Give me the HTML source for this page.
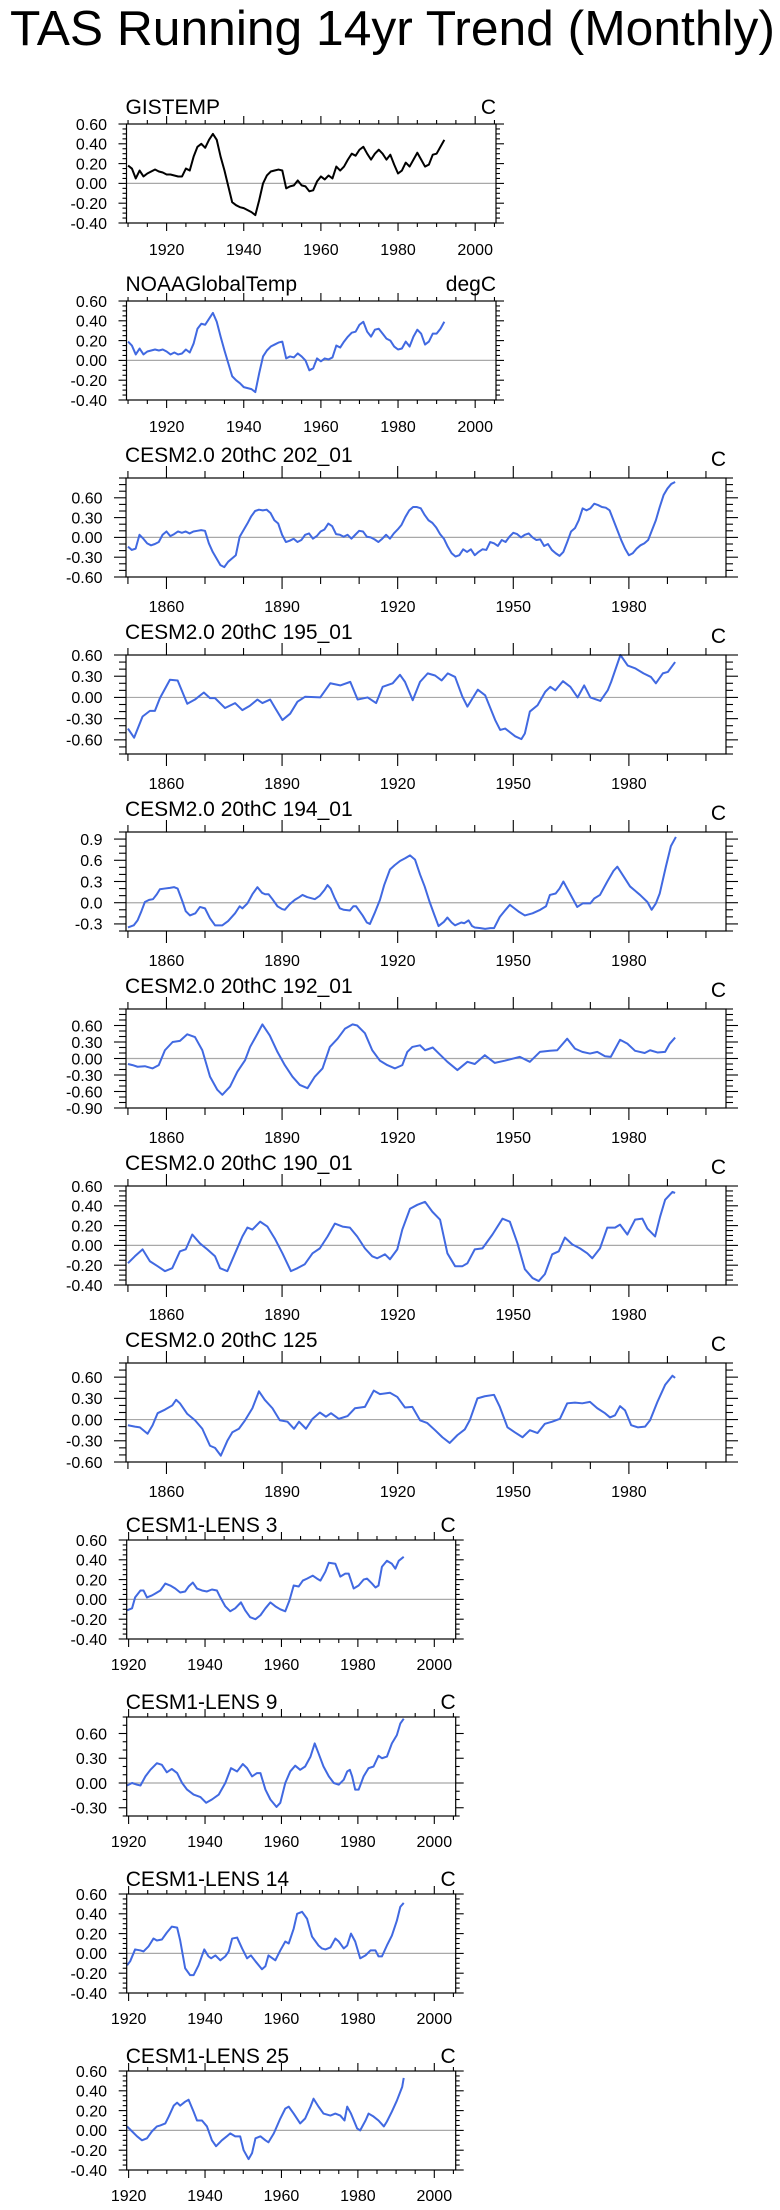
<!DOCTYPE html>
<html>
<head>
<meta charset="utf-8">
<style>
html,body{margin:0;padding:0;background:#fff;}
svg{display:block;font-family:"Liberation Sans",Arial,sans-serif;}
</style>
</head>
<body>
<svg id="chart" width="780" height="2210" viewBox="0 0 780 2210">
<text x="10" y="45" font-size="49" textLength="765" lengthAdjust="spacingAndGlyphs">TAS Running 14yr Trend (Monthly)</text>
</svg>
<script>
// ---------- data ----------
const gisStart = 1910;
const gisVals = [.18,.15,.05,.13,.07,.10,.12,.14,.12,.11,
.09,.09,.08,.07,.07,.15,.13,.27,.37,.40,
.36,.44,.50,.44,.27,.13,-.03,-.19,-.22,-.24,
-.25,-.27,-.29,-.32,-.17,.0,.08,.12,.13,.14,
.13,-.05,-.03,-.02,.03,-.02,-.03,-.08,-.07,.02,
.07,.04,.08,.05,.17,.13,.17,.24,.30,.28,
.34,.37,.30,.24,.30,.34,.30,.24,.29,.19,
.10,.13,.21,.17,.24,.31,.24,.17,.19,.29,
.30,.37,.44];
const noaaStart = 1910;
const noaaVals = [.19,.15,.06,.12,.06,.09,.10,.11,.10,.11,
.09,.06,.08,.06,.07,.11,.08,.17,.32,.37,
.36,.42,.48,.39,.24,.10,-.03,-.16,-.20,-.23,
-.27,-.28,-.29,-.32,-.13,.04,.10,.14,.16,.18,
.19,.02,.04,.03,.07,.04,.00,-.10,-.08,.02,
-.01,.02,.01,.03,.15,.13,.19,.24,.28,.29,
.36,.39,.29,.24,.31,.32,.27,.22,.20,.14,
.11,.12,.19,.14,.24,.31,.27,.16,.19,.27,
.27,.32,.39];
const c202Start = 1850;
const c202Vals = [-.14,-.19,-.17,.04,-.02,-.09,-.12,-.10,-.07,.04,
.09,.02,.05,.09,.07,.09,.06,.09,.10,.11,
.10,-.09,-.22,-.32,-.42,-.45,-.37,-.32,-.27,.01,
.11,.21,.32,.40,.42,.41,.42,.37,.26,.21,
.04,-.07,-.05,-.02,-.07,-.04,.04,.06,-.02,.02,
.09,.12,.21,.17,.05,.04,.01,.04,-.02,.04,
.10,.09,.01,0,-.03,-.07,-.02,.04,-.02,.06,
.12,.19,.31,.41,.46,.46,.44,.34,.26,.22,
.15,.05,-.02,-.14,-.24,-.29,-.27,-.18,-.22,-.18,
-.27,-.22,-.18,-.19,-.07,-.09,-.13,-.04,-.07,.01,
.07,.05,0,.04,.06,0,-.04,-.03,-.13,-.10,
-.19,-.24,-.28,-.22,-.07,.09,.14,.26,.44,.41,
.44,.51,.49,.46,.45,.41,.26,.11,-.04,-.17,
-.27,-.24,-.17,-.12,-.09,-.04,.11,.26,.46,.64,
.74,.81,.84];
const c195Years = [1850,1851.6,1853.8,1855.7,1857,1858.3,1860.9,1862.9,1865.4,1867.4,1869.7,1871.3,1872.6,1875.2,1877.8,1879.7,1881.6,1883.6,1884.9,1886.9,1888.2,1890.1,1892.1,1894,1896,1899.9,1902.5,1905.1,1907.7,1909.6,1912.2,1914.4,1916.1,1918.7,1920.6,1921.9,1923.9,1925.8,1927.8,1929.7,1931.4,1933,1934.9,1936.8,1938.1,1940.8,1942.7,1945.3,1946.6,1947.9,1950.5,1952.1,1953,1954.3,1956.3,1958.3,1959.6,1960.9,1962.9,1964.8,1966.7,1968.4,1970,1972.6,1974.5,1975.4,1977.8,1979.7,1981.7,1983.8,1985.7,1987,1988.8,1990.1,1992];
const c195Vals = [-.44,-.57,-.27,-.19,-.19,-.01,.25,.24,-.09,-.03,.07,-.01,-.01,-.15,-.08,-.18,-.12,-.03,-.08,-.03,-.15,-.32,-.23,-.06,.01,0,.20,.17,.22,-.03,0,-.08,.15,.20,.32,.22,-.04,.22,.34,.31,.24,.34,.29,.01,-.13,.11,.03,-.32,-.46,-.44,-.55,-.59,-.51,-.20,-.11,.08,.15,.10,.23,.15,0,.17,0,-.05,.10,.22,.60,.45,.41,.34,.29,.20,.34,.36,.50];
const c194Years = [1850,1851.5,1852.5,1853.5,1854.4,1855.5,1856.5,1857.5,1858.3,1859.5,1860.9,1862,1862.9,1864.2,1865,1866.1,1867.5,1868.7,1870,1871.3,1872.6,1874.5,1876,1877.8,1879,1879.7,1881,1882.3,1883.6,1884.8,1885.6,1886.5,1887.5,1888.8,1890,1890.7,1892,1893.3,1894.5,1895.3,1896.5,1898.5,1899.8,1901,1901.8,1902.6,1903.7,1905,1906,1907.6,1908.5,1909.2,1910.9,1912,1912.8,1914,1915.4,1916.5,1918,1919.2,1920.6,1922,1923.2,1924.5,1925.8,1927,1928.3,1929.5,1930.6,1932,1932.9,1934,1934.9,1936.5,1937.3,1938.4,1939.3,1940,1941.5,1942.7,1944,1945,1946.5,1948,1949.1,1950.3,1951.5,1953,1955,1957,1958.5,1959.5,1961,1962,1963,1964.7,1966.6,1968,1970,1971,1972.5,1974.4,1976,1977,1978.3,1980.3,1982.9,1984.8,1985.9,1987,1988,1989.6,1990.9,1992.2];
const c194Vals = [-.35,-.32,-.25,-.12,.01,.04,.05,.12,.19,.20,.21,.22,.20,.01,-.12,-.18,-.15,-.06,-.08,-.22,-.32,-.32,-.26,-.15,-.05,-.08,-.01,.12,.22,.14,.12,.12,.05,-.05,-.09,-.10,-.02,.04,.08,.11,.08,.05,.10,.18,.25,.20,.06,-.08,-.10,-.11,-.05,-.05,-.18,-.28,-.30,-.15,.04,.25,.47,.53,.59,.63,.67,.61,.40,.23,.01,-.17,-.33,-.27,-.21,-.28,-.32,-.28,-.29,-.25,-.33,-.35,-.36,-.37,-.36,-.36,-.20,-.10,-.03,-.08,-.13,-.18,-.15,-.10,-.05,.11,.13,.20,.30,.13,-.06,-.01,-.01,.06,.11,.30,.45,.51,.40,.23,.11,.01,-.10,-.01,.13,.51,.80,.93];
const c192Years = [1850,1851.2,1852.5,1854.4,1856.4,1858,1859.6,1861.6,1863.5,1865.4,1867.4,1869.3,1871.3,1873.2,1874.5,1876.5,1878.4,1880.4,1881.7,1883.6,1884.9,1886.8,1888.8,1890.7,1892.7,1894.6,1896.6,1898.5,1900.5,1902.4,1904.4,1906.3,1908.3,1909.5,1911.5,1913.4,1915.4,1917.3,1919.3,1921.2,1922.5,1923.8,1925.8,1927.1,1929.1,1930.7,1932.9,1935.5,1938.1,1940,1942.6,1945.2,1947.8,1951.7,1954.3,1956.9,1959.5,1961.4,1964,1966,1967.9,1969.9,1971.8,1973.8,1975.3,1977.7,1979.6,1981.6,1984.1,1985.5,1987.4,1989.4,1990.6,1992];
const c192Vals = [-.10,-.12,-.15,-.14,-.18,-.12,.15,.30,.32,.44,.39,.15,-.33,-.57,-.66,-.51,-.24,-.03,.21,.45,.62,.42,.12,-.12,-.33,-.48,-.54,-.33,-.18,.21,.36,.54,.62,.60,.46,.15,-.04,-.12,-.18,-.12,.12,.21,.24,.15,.20,.09,-.06,-.21,-.06,-.10,.06,-.08,-.04,.03,-.06,.12,.14,.15,.36,.18,.12,.09,.12,.04,.03,.34,.27,.14,.10,.15,.11,.12,.27,.38];
const c190Years = [1850,1851.8,1853.8,1855.7,1857.7,1859.6,1861.5,1863.5,1865,1866.7,1868.7,1870.6,1872.6,1873.9,1875.8,1877.8,1879.7,1881,1882.3,1884.3,1886.2,1888.1,1890.1,1892.3,1894,1895.9,1897.9,1899.8,1901.8,1903.7,1905.7,1907.6,1909.5,1911.5,1913.4,1914.7,1916.7,1918,1919.9,1921.2,1923.2,1925.1,1927.1,1929,1931,1932.9,1934.9,1936.8,1938.1,1940,1942,1944.6,1947.2,1949.1,1951.1,1953,1955,1956.6,1958.2,1960.1,1961.8,1963.4,1965.3,1967.3,1969.2,1970.5,1972.5,1974.4,1976.4,1977.7,1979.6,1981.6,1983.5,1984.8,1986.8,1988.1,1989.4,1991.3,1992];
const c190Vals = [-.18,-.11,-.04,-.16,-.21,-.26,-.23,-.06,-.04,.11,.02,-.04,-.11,-.23,-.26,-.08,.09,.18,.16,.24,.19,.07,-.08,-.26,-.23,-.19,-.08,-.03,.09,.22,.19,.18,.09,-.03,-.11,-.13,-.09,-.14,-.04,.16,.37,.41,.44,.34,.26,-.08,-.21,-.21,-.18,-.04,-.03,.11,.27,.24,.02,-.24,-.33,-.36,-.29,-.09,-.06,.08,.01,-.03,-.08,-.13,-.03,.18,.18,.21,.11,.26,.27,.17,.09,.29,.46,.54,.53];
const c125Years = [1850,1851.8,1853.1,1855.1,1856.4,1857.7,1859.6,1861.5,1862.5,1863.5,1865.4,1867.4,1869.3,1871.3,1872.6,1874.1,1875.8,1877.1,1878.8,1880.4,1882.3,1884,1885.5,1887.5,1889.4,1891.4,1893.1,1894.4,1896.2,1897.9,1899.8,1901.4,1902.7,1904.7,1907,1908.9,1911.5,1913.8,1915.4,1918,1919.9,1921.9,1923.8,1925.8,1927.7,1929.7,1931.6,1933.5,1935.5,1937.4,1938.7,1940.7,1942.6,1945,1946.5,1948.5,1950.4,1952.4,1954.3,1956.3,1958.2,1960.1,1962.1,1964,1966,1967.9,1969.9,1971.8,1973.8,1975.1,1976.4,1977.7,1979,1980.6,1982.3,1984.2,1985.5,1987.4,1989.4,1991.3,1992];
const c125Vals = [-.08,-.10,-.11,-.20,-.08,.09,.14,.20,.28,.23,.08,-.01,-.13,-.37,-.40,-.51,-.30,-.18,-.13,-.01,.16,.40,.28,.16,-.01,-.03,-.13,-.03,-.13,.01,.10,.04,.09,.01,.05,.16,.18,.41,.36,.38,.32,.17,.18,-.01,-.05,-.15,-.25,-.33,-.22,-.14,-.01,.30,.33,.35,.18,-.11,-.18,-.25,-.15,-.19,-.06,-.03,.01,.23,.24,.23,.25,.16,.09,.03,.06,.19,.13,-.08,-.11,-.10,-.01,.25,.49,.62,.59];
const l3Years = [1919.6,1920.9,1921.7,1923.1,1923.9,1924.8,1926.1,1927,1928.3,1929.6,1930.9,1932.2,1933.5,1934.8,1935.7,1936.8,1937.9,1939.2,1940.5,1941.8,1943.1,1944,1945.3,1946.6,1947.9,1949.4,1950.5,1951.8,1953.2,1954.5,1955.8,1957.1,1958.4,1959.7,1961,1962.1,1963.2,1964.5,1965.6,1966.7,1968.2,1969.3,1970.2,1971.5,1972.4,1974.1,1975.4,1976.7,1977.6,1978.9,1980.2,1981.5,1982.4,1983.7,1984.6,1985.4,1986.3,1987.6,1988.9,1989.8,1990.7,1992];
const l3Vals = [-.11,-.09,.02,.09,.09,.02,.04,.06,.09,.16,.14,.11,.07,.08,.13,.17,.11,.09,.08,.10,.09,.02,-.07,-.12,-.09,-.03,-.11,-.18,-.20,-.16,-.09,-.03,-.07,-.10,-.12,-.01,.14,.13,.19,.21,.24,.21,.19,.28,.37,.36,.23,.26,.26,.11,.14,.20,.21,.16,.12,.14,.33,.39,.36,.31,.39,.43];
const l9Years = [1919.6,1920.9,1922.2,1923.1,1924.4,1925.7,1927.4,1928.7,1930,1931.3,1932.7,1934,1935.3,1937,1938.8,1940.3,1941.8,1943.6,1945.3,1946.8,1948.4,1949.9,1951,1952.3,1953.6,1954.5,1955.8,1957.1,1958.7,1959.7,1961,1962.3,1963.6,1964.9,1966.2,1967.6,1968.7,1969.7,1971,1972.4,1973.7,1975,1976.3,1977.2,1977.9,1978.5,1979.3,1980.2,1981.5,1982.8,1984.1,1985.4,1986.3,1987.6,1988.9,1990.2,1991.1,1992];
const l9Vals = [-.03,0,-.02,-.03,.08,.16,.24,.22,.13,.17,.12,0,-.08,-.14,-.17,-.24,-.20,-.14,0,.18,.14,.23,.18,.08,.12,.12,-.08,-.20,-.29,-.24,0,.14,.21,.16,.20,.32,.48,.36,.20,.08,0,-.02,.04,.14,.16,.08,-.08,-.08,.08,.18,.20,.33,.30,.32,.48,.58,.72,.78];
const l14Years = [1919.6,1920.4,1921.7,1923.1,1923.9,1925.2,1926.5,1927.4,1928.7,1930,1931.3,1932.7,1933.5,1934.8,1936.1,1937,1938.3,1939.8,1940.9,1941.6,1942.7,1944,1945.3,1946.2,1947.1,1948.4,1949.7,1951,1952,1953.2,1954.9,1955.8,1956.6,1958.4,1959.7,1961,1961.9,1963.2,1964.1,1965.4,1966.7,1968,1969.7,1970.6,1971.5,1972.8,1974.1,1975,1976.3,1977.2,1978.2,1979.3,1980.6,1982,1983.3,1984.6,1985.4,1986.3,1987.6,1988.9,1990.2,1991.1,1992];
const l14Vals = [-.12,-.08,.04,.03,.02,.07,.15,.13,.14,.21,.27,.26,.13,-.15,-.22,-.22,-.12,.04,-.03,-.05,-.02,-.07,-.03,.02,.15,.16,.05,-.05,-.02,-.08,-.16,-.13,-.02,-.07,.03,.12,.10,.25,.40,.42,.35,.17,.08,.05,.04,.06,.15,.12,.05,.08,.20,.12,-.05,-.02,.03,.03,-.03,-.03,.08,.18,.33,.47,.51];
const l25Years = [1919.6,1920.9,1922.2,1923.5,1924.8,1926.1,1927.4,1928.3,1929.6,1930.5,1931.8,1932.7,1933.5,1934.8,1935.7,1937,1937.9,1939.2,1940.5,1941.8,1942.9,1944.4,1945.7,1946.6,1947.9,1949.2,1950.1,1951.4,1952.3,1953.2,1954.5,1955.8,1956.6,1958,1959.7,1961,1961.9,1963.2,1964.9,1966.2,1967.6,1968.4,1969.7,1971,1972.8,1974.1,1975.4,1976.5,1977.2,1978.2,1979.8,1980.6,1982,1982.8,1984.1,1985.4,1986.8,1987.6,1988.9,1990.2,1991.6,1992];
const l25Vals = [.04,-.01,-.06,-.10,-.08,-.01,.04,.05,.07,.14,.25,.28,.25,.29,.31,.19,.10,.10,.04,-.10,-.16,-.10,-.06,-.03,-.06,-.06,-.20,-.29,-.23,-.08,-.06,-.10,-.12,-.03,.12,.22,.24,.17,.07,.12,.24,.32,.24,.17,.15,.17,.15,.10,.24,.17,.02,.00,.10,.17,.14,.10,.04,.09,.19,.30,.44,.53];

const gisYears = gisVals.map((v, i) => gisStart + i);
const noaaYears = noaaVals.map((v, i) => noaaStart + i);
const c202Years = c202Vals.map((v, i) => c202Start + i);

// tick label arrays
const yTicksTop = [-0.4, -0.2, 0, 0.2, 0.4, 0.6];
const yTicks3 = [-0.6, -0.3, 0, 0.3, 0.6];
const yTicks194 = [-0.3, 0, 0.3, 0.6, 0.9];
const yTicks192 = [-0.9, -0.6, -0.3, 0, 0.3, 0.6];
const yTicksL9 = [-0.3, 0, 0.3, 0.6];

// ---------- layout ----------
const svg = document.getElementById('chart');
const NS = svg.namespaceURI;
const H = 99;
const LAY = {
  top:  {left:126.5, right:496,   x0:1909.6, x1:2005.4, xMaj:20, xMin:5,  tMaj:8,  tMin:4, yLblX:107,   xLblDy:32, titleDy:10, unitDy:10},
  wide: {left:126,   right:726,   x0:1849.5, x1:2005.2, xMaj:30, xMin:10, tMaj:12, tMin:7, yLblX:102.5, xLblDy:35, titleDy:16, unitDy:12},
  lens: {left:126.7, right:455.7, x0:1919.5, x1:2005.6, xMaj:20, xMin:5,  tMaj:8,  tMin:4, yLblX:107,   xLblDy:31, titleDy:8,  unitDy:8}
};
const panels = [
  {id:'gistemp', title:'GISTEMP', units:'C', kind:'top', top:124, y0:-0.4, y1:0.6, yMin:0.05, yT:yTicksTop, dec:2, xs:gisYears, vs:gisVals, color:'#000'},
  {id:'noaa', title:'NOAAGlobalTemp', units:'degC', kind:'top', top:301, y0:-0.4, y1:0.6, yMin:0.05, yT:yTicksTop, dec:2, xs:noaaYears, vs:noaaVals, color:'#4169e1'},
  {id:'cesm2-202', title:'CESM2.0 20thC 202_01', units:'C', kind:'wide', top:478, y0:-0.6, y1:0.9, yMin:0.1, yT:yTicks3, dec:2, xs:c202Years, vs:c202Vals, color:'#4169e1'},
  {id:'cesm2-195', title:'CESM2.0 20thC 195_01', units:'C', kind:'wide', top:655, y0:-0.8, y1:0.6, yMin:0.1, yT:yTicks3, dec:2, xs:c195Years, vs:c195Vals, color:'#4169e1'},
  {id:'cesm2-194', title:'CESM2.0 20thC 194_01', units:'C', kind:'wide', top:832, y0:-0.4, y1:1.0, yMin:0.1, yT:yTicks194, dec:1, xs:c194Years, vs:c194Vals, color:'#4169e1'},
  {id:'cesm2-192', title:'CESM2.0 20thC 192_01', units:'C', kind:'wide', top:1009, y0:-0.9, y1:0.9, yMin:0.1, yT:yTicks192, dec:2, xs:c192Years, vs:c192Vals, color:'#4169e1'},
  {id:'cesm2-190', title:'CESM2.0 20thC 190_01', units:'C', kind:'wide', top:1186, y0:-0.4, y1:0.6, yMin:0.05, yT:yTicksTop, dec:2, xs:c190Years, vs:c190Vals, color:'#4169e1'},
  {id:'cesm2-125', title:'CESM2.0 20thC 125', units:'C', kind:'wide', top:1363, y0:-0.6, y1:0.8, yMin:0.1, yT:yTicks3, dec:2, xs:c125Years, vs:c125Vals, color:'#4169e1'},
  {id:'lens-3', title:'CESM1-LENS 3', units:'C', kind:'lens', top:1540, y0:-0.4, y1:0.6, yMin:0.05, yT:yTicksTop, dec:2, xs:l3Years, vs:l3Vals, color:'#4169e1'},
  {id:'lens-9', title:'CESM1-LENS 9', units:'C', kind:'lens', top:1717, y0:-0.4, y1:0.8, yMin:0.1, yT:yTicksL9, dec:2, xs:l9Years, vs:l9Vals, color:'#4169e1'},
  {id:'lens-14', title:'CESM1-LENS 14', units:'C', kind:'lens', top:1894, y0:-0.4, y1:0.6, yMin:0.05, yT:yTicksTop, dec:2, xs:l14Years, vs:l14Vals, color:'#4169e1'},
  {id:'lens-25', title:'CESM1-LENS 25', units:'C', kind:'lens', top:2071, y0:-0.4, y1:0.6, yMin:0.05, yT:yTicksTop, dec:2, xs:l25Years, vs:l25Vals, color:'#4169e1'}
];

function mk(tag, attrs, parent) {
  const e = document.createElementNS(NS, tag);
  for (const k in attrs) e.setAttribute(k, attrs[k]);
  parent.appendChild(e);
  return e;
}

panels.forEach(p => {
  const L = LAY[p.kind];
  const top = p.top, bot = p.top + H;
  const sx = v => L.left + (v - L.x0) / (L.x1 - L.x0) * (L.right - L.left);
  const sy = v => bot - (v - p.y0) / (p.y1 - p.y0) * H;

  const g = mk('g', {}, svg);
  
  

  const title = mk('text', {x: L.left - 1, y: top - L.titleDy, 'font-size': 21}, g);
  title.textContent = p.title;
  
  

  const unit = mk('text', {x: L.right, y: top - L.unitDy, 'font-size': 21, 'text-anchor': 'end'}, g);
  unit.textContent = p.units;
  
  

  if (p.y0 < 0 && p.y1 > 0) {
    const z = mk('line', {x1: L.left, x2: L.right, y1: sy(0), y2: sy(0), stroke: '#a8a8a8', 'stroke-width': 1.2}, g);
    
    
  }

  // x ticks
  const xt = mk('g', {stroke: '#000', 'stroke-width': 1.1}, g);
  
  
  for (let t = Math.ceil(L.x0 / L.xMin) * L.xMin; t <= L.x1; t += L.xMin) {
    const major = Math.abs(t % L.xMaj) < 1e-6;
    const len = major ? L.tMaj : L.tMin;
    const x = sx(t);
    const a = mk('line', {x1: x, x2: x, y1: top, y2: top - len}, xt);
    
    
    const b = mk('line', {x1: x, x2: x, y1: bot, y2: bot + len}, xt);
    
    
    if (major) {
      const lb = mk('text', {x: x, y: bot + L.xLblDy, 'font-size': 16, 'text-anchor': 'middle'}, g);
      lb.textContent = String(t);
      
      
    }
  }

  // y ticks
  const yt = mk('g', {stroke: '#000', 'stroke-width': 1.1}, g);
  
  
  const n = Math.round((p.y1 - p.y0) / p.yMin);
  for (let i = 0; i <= n; i++) {
    const v = p.y0 + i * p.yMin;
    const major = p.yT.some(m => Math.abs(m - v) < 1e-6);
    const len = major ? L.tMaj : L.tMin;
    const y = sy(v);
    const a = mk('line', {x1: L.left, x2: L.left - len, y1: y, y2: y}, yt);
    
    
    const b = mk('line', {x1: L.right, x2: L.right + len, y1: y, y2: y}, yt);
    
    
  }
  p.yT.forEach(v => {
    const lb = mk('text', {x: L.yLblX, y: sy(v) + 5.8, 'font-size': 16, 'text-anchor': 'end'}, g);
    lb.textContent = (Math.abs(v) < 1e-9 ? 0 : v).toFixed(p.dec);
    
    
  });

  // series
  let d = '';
  p.xs.forEach((yr, i) => {
    d += (i ? 'L' : 'M') + sx(yr).toFixed(2) + ',' + sy(p.vs[i]).toFixed(2);
  });
  const line = mk('path', {d: d, fill: 'none', stroke: p.color, 'stroke-width': 2, 'stroke-linejoin': 'round'}, g);
  
  

  const box = mk('rect', {x: L.left, y: top, width: L.right - L.left, height: H, fill: 'none', stroke: '#000', 'stroke-width': 1.2}, g);
  
  
});
</script>
</body>
</html>
